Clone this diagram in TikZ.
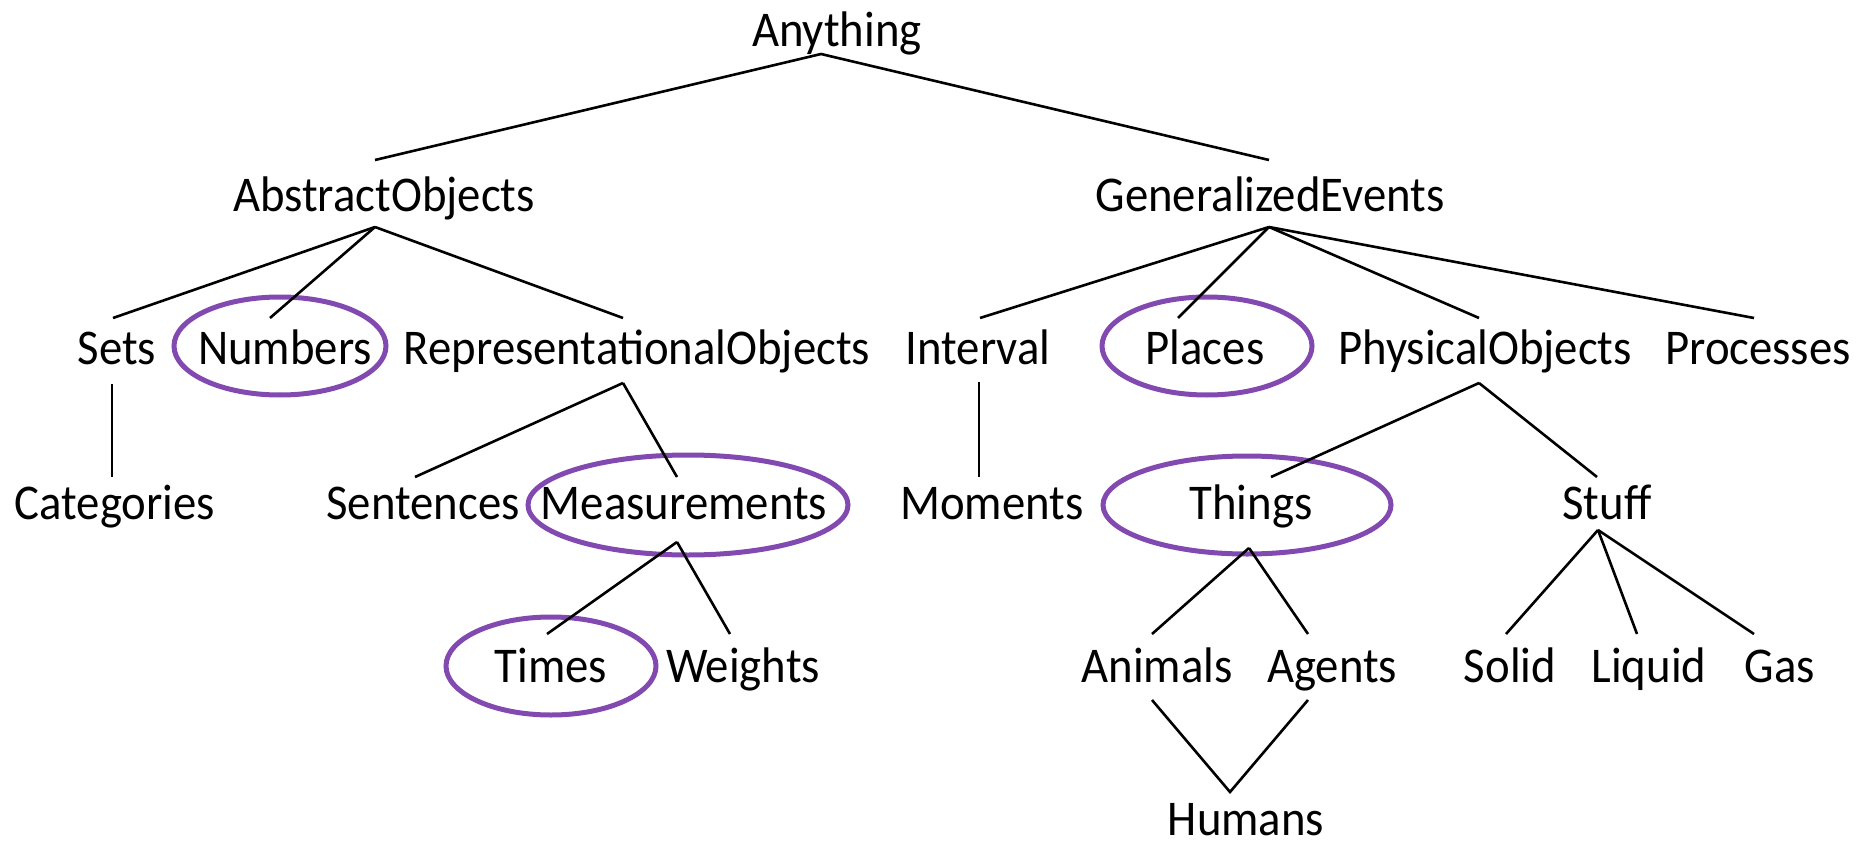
\documentclass[tikz,border=0pt]{standalone}
\usepackage{fontspec}
\setmainfont[FakeStretch=0.935]{Carlito}
\usetikzlibrary{calc}
\definecolor{hilite}{RGB}{130,74,176}
\begin{document}
\begin{tikzpicture}[x=1pt,y=-1pt,
  term/.style={anchor=base, inner sep=0pt, font=\fontsize{50}{60}\selectfont},
  link/.style={line width=2.6pt, black},
  ring/.style={line width=5pt, hilite}]
\useasboundingbox (0,0) rectangle (1862,842);

% category names, placed on their baselines
\node[term] (any) at (837,47)  {Anything};
\node[term] (ao)  at (384,212) {AbstractObjects};
\node[term] (ge)  at (1270,212) {GeneralizedEvents};
\node[term] (sets) at (117,364) {Sets};
\node[term] (num) at (285,364) {Numbers};
\node[term] (rep) at (637,364) {RepresentationalObjects};
\node[term] (int) at (978,364) {Interval};
\node[term] (pla) at (1205,364) {Places};
\node[term] (phy) at (1485,364) {PhysicalObjects};
\node[term] (pro) at (1758,364) {Processes};
\node[term] (cat) at (115,519) {Categories};
\node[term] (sen) at (423,519) {Sentences};
\node[term] (mea) at (684,519) {Measurements};
\node[term] (mom) at (992,519) {Moments};
\node[term] (thi) at (1251,519) {Things};
\node[term] (stu) at (1607,519) {Stuff};
\node[term] (tim) at (551,682) {Times};
\node[term] (wei) at (743,682) {Weights};
\node[term] (ani) at (1157,682) {Animals};
\node[term] (age) at (1332,682) {Agents};
\node[term] (sol) at (1510,682) {Solid};
\node[term] (liq) at (1649,682) {Liquid};
\node[term] (gas) at (1780,682) {Gas};
\node[term] (hum) at (1246,835) {Humans};

% highlighted categories
\draw[ring] (280,346) ellipse [x radius=106pt, y radius=49pt];
\draw[ring] (1207,346) ellipse [x radius=105pt, y radius=49pt];
\draw[ring] (688,505) ellipse [x radius=160pt, y radius=50pt];
\draw[ring] (1247,505) ellipse [x radius=144pt, y radius=49pt];
\draw[ring] (551,666) ellipse [x radius=105pt, y radius=49pt];

% subcategory links
\draw[link] ($(ao.base)+(-9,-52)$) -- ($(any.base)+(-16,7)$) -- ($(ge.base)+(-1,-52)$);

\draw[link] ($(ao.base)+(-9,15)$) -- ($(sets.base)+(-4,-46)$);
\draw[link] ($(ao.base)+(-9,15)$) -- ($(num.base)+(-15,-46)$);
\draw[link] ($(ao.base)+(-9,15)$) -- ($(rep.base)+(-14,-46)$);

\draw[link] ($(ge.base)+(-1,15)$) -- ($(int.base)+(2,-46)$);
\draw[link] ($(ge.base)+(-1,15)$) -- ($(pla.base)+(-27,-46)$);
\draw[link] ($(ge.base)+(-1,15)$) -- ($(phy.base)+(-6,-46)$);
\draw[link] ($(ge.base)+(-1,15)$) -- ($(pro.base)+(-4,-46)$);

\draw[link] ($(sets.base)+(-5,20)$) -- ($(cat.base)+(-3,-42)$);
\draw[link] ($(rep.base)+(-14,19)$) -- ($(sen.base)+(-8,-42)$);
\draw[link] ($(rep.base)+(-14,19)$) -- ($(mea.base)+(-7,-42)$);
\draw[link] ($(int.base)+(1,18)$) -- ($(mom.base)+(-13,-42)$);
\draw[link] ($(phy.base)+(-6,19)$) -- ($(thi.base)+(20,-42)$);
\draw[link] ($(phy.base)+(-6,19)$) -- ($(stu.base)+(-10,-42)$);

\draw[link] ($(mea.base)+(-7,23)$) -- ($(tim.base)+(-4,-48)$);
\draw[link] ($(mea.base)+(-7,23)$) -- ($(wei.base)+(-13,-48)$);
\draw[link] ($(thi.base)+(-2,29)$) -- ($(ani.base)+(-5,-48)$);
\draw[link] ($(thi.base)+(-2,29)$) -- ($(age.base)+(-24,-48)$);
\draw[link] ($(stu.base)+(-9,11)$) -- ($(sol.base)+(-4,-48)$);
\draw[link] ($(stu.base)+(-9,11)$) -- ($(liq.base)+(-12,-48)$);
\draw[link] ($(stu.base)+(-9,11)$) -- ($(gas.base)+(-26,-48)$);

\draw[link] ($(ani.base)+(-5,18)$) -- ($(hum.base)+(-16,-43)$) -- ($(age.base)+(-24,18)$);
\end{tikzpicture}
\end{document}
